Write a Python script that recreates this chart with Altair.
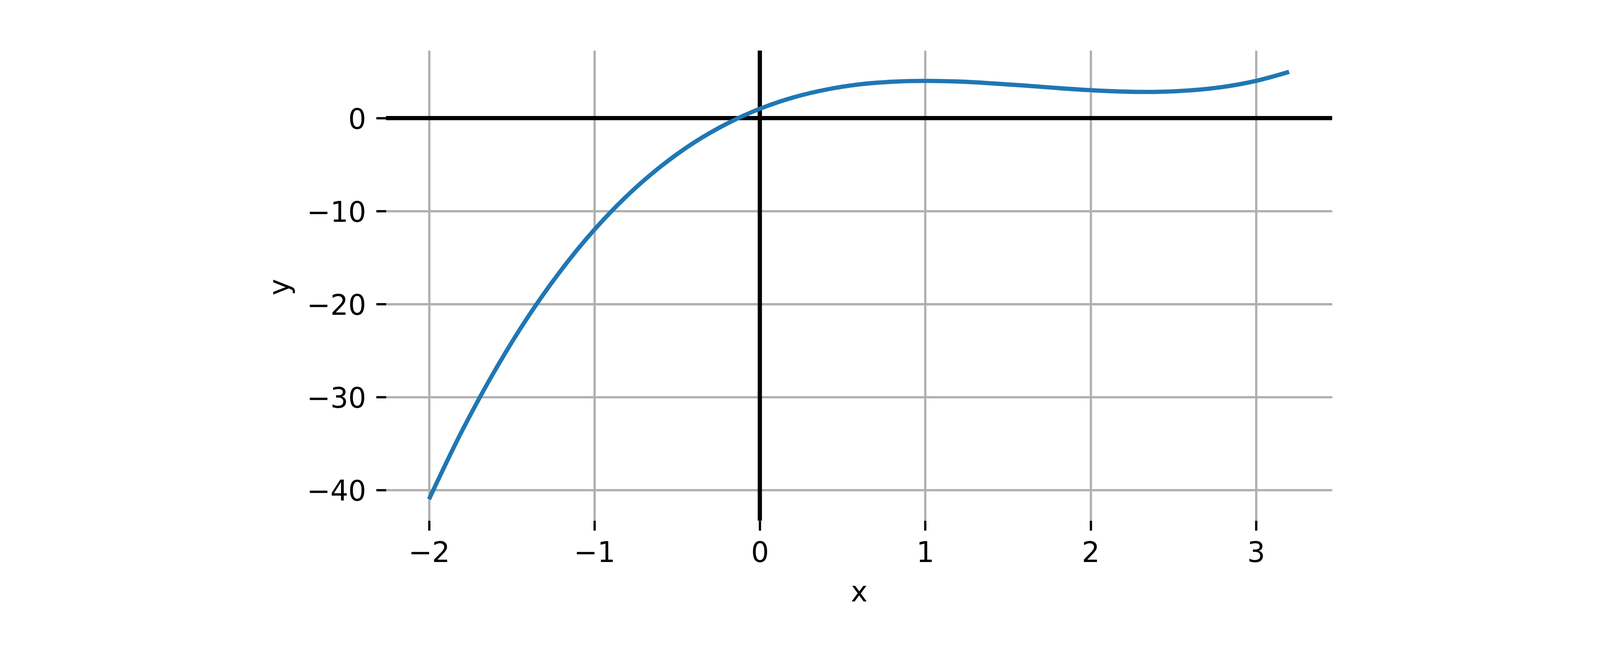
import altair as alt
import pandas as pd

# Curve values
xs = [-2.0, -1.8, -1.6, -1.4, -1.2, -1.0, -0.8, -0.6, -0.4, -0.2, 0.0,
      0.2, 0.4, 0.6, 0.8, 1.0, 1.2, 1.4, 1.6, 1.8, 2.0, 2.2, 2.4, 2.6,
      2.8, 3.0, 3.2]
ys = [-41.0, -33.63, -27.1, -21.34, -16.33, -12.0, -8.31, -5.22, -2.66,
      -0.61, 1.0, 2.21, 3.06, 3.62, 3.91, 4.0, 3.93, 3.74, 3.5, 3.23, 3.0,
      2.85, 2.82, 2.98, 3.35, 4.0, 4.97]
x_ticks = [-2, -1, 0, 1, 2, 3]
y_ticks = [-40, -30, -20, -10, 0]
x_domain = [-2.26, 3.46]
y_domain = [-43.298, 7.266]

df = pd.DataFrame({"x": xs, "y": ys})
hline = pd.DataFrame({"y": [0]})
vline = pd.DataFrame({"x": [0]})

W, H = 2787, 1385
FONT = "DejaVu Sans"
FS = 83

x_scale = alt.Scale(domain=x_domain, nice=False, zero=False)
y_scale = alt.Scale(domain=y_domain, nice=False, zero=False)

x_axis = alt.Axis(
    values=x_ticks, title="x", grid=True, gridColor="#b0b0b0", gridWidth=6.7,
    domain=False, ticks=True, tickColor="black", tickWidth=6.7, tickSize=29,
    labelFont=FONT, labelFontSize=FS, labelColor="black", labelPadding=26,
    labelExpr="replace(datum.label, '-', '\u2212')",
    titleFont=FONT, titleFontSize=FS, titleFontWeight="normal", titleColor="black",
    titleBaseline="alphabetic", titleX=W / 2, titleY=238, titleAnchor="middle",
)
y_axis = alt.Axis(
    values=y_ticks, title="y", grid=True, gridColor="#b0b0b0", gridWidth=6.7,
    domain=False, ticks=True, tickColor="black", tickWidth=6.7, tickSize=29,
    labelFont=FONT, labelFontSize=FS, labelColor="black", labelPadding=30,
    labelOffset=6, labelFlush=False,
    labelExpr="replace(datum.label, '-', '\u2212')",
    titleFont=FONT, titleFontSize=FS, titleFontWeight="normal", titleColor="black",
    titleBaseline="alphabetic", titleAngle=270, titleX=-286, titleY=H / 2 + 4,
    titleAlign="center",
)

rule_h = alt.Chart(hline).mark_rule(color="black", strokeWidth=12.5).encode(
    y=alt.Y("y:Q", scale=y_scale, axis=y_axis)
)
rule_v = alt.Chart(vline).mark_rule(color="black", strokeWidth=12.5).encode(
    x=alt.X("x:Q", scale=x_scale, axis=x_axis)
)
curve = alt.Chart(df).mark_line(
    color="#1f77b4", strokeWidth=12.5, interpolate="catmull-rom"
).encode(
    x=alt.X("x:Q", scale=x_scale, axis=x_axis),
    y=alt.Y("y:Q", scale=y_scale, axis=y_axis),
)

chart = alt.layer(rule_h, rule_v, curve).properties(
    width=W, height=H,
    autosize=alt.AutoSizeParams(type="none"),
    padding={"left": 1128, "top": 16, "right": 780, "bottom": 240},
    background="white",
).configure_view(stroke=None)

chart.save("out.html", embed_options={"renderer": "svg", "actions": False})
